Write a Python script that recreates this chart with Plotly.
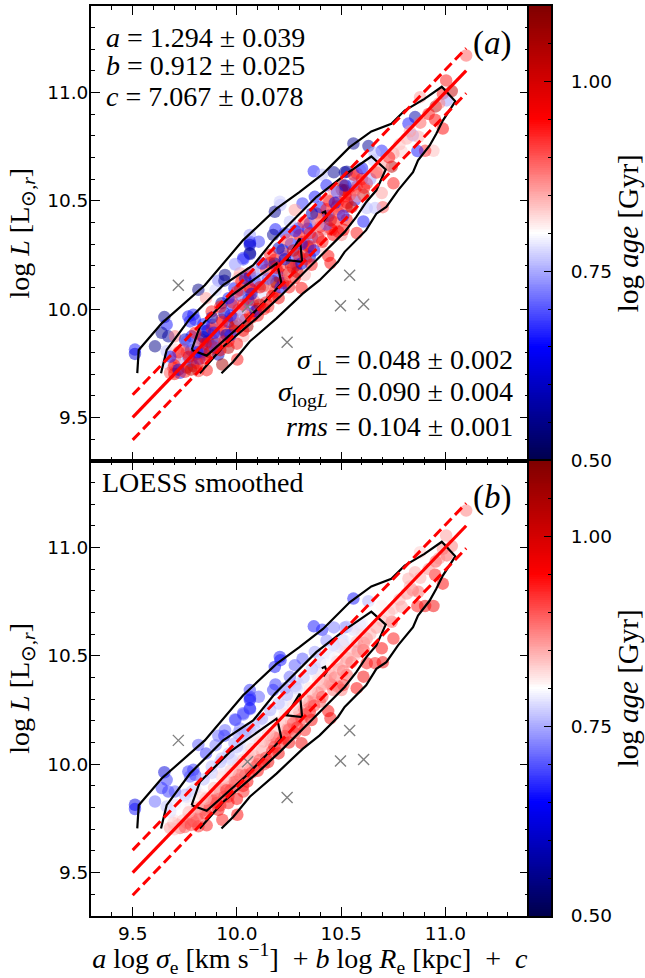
import numpy as np
import plotly.graph_objects as go

W, H = 645, 978

# galaxy positions (model value, log L) and ages
model = [
 9.511,9.511,9.607,9.652,9.663,9.639,9.671,9.703,9.767,9.791,
 9.799,9.775,9.815,9.852,9.911,9.943,9.94,9.898,9.991,10.031,
 10.063,10.063,9.988,9.927,9.975,9.882,9.783,9.751,9.663,9.743,
 9.703,9.767,9.695,9.727,9.663,9.679,9.879,9.847,9.791,9.911,
 9.959,10.002,9.93,9.855,9.815,9.703,9.831,9.879,9.927,9.959,
 10.007,10.015,10.055,10.063,9.991,9.911,10.031,9.847,9.959,10.015,
 10.063,10.015,10.071,10.369,10.409,10.465,10.518,10.43,10.51,10.518,
 10.446,10.486,10.526,10.566,10.566,10.374,10.315,10.278,10.209,10.182,
 10.206,10.382,10.35,10.294,10.254,10.185,10.174,10.23,10.286,10.406,
 10.398,10.446,10.486,10.502,10.462,10.062,10.062,10.105,10.062,10.062,
 10.03,9.993,10.219,10.182,10.158,10.23,10.342,10.35,10.398,10.438,
 10.449,10.246,10.206,10.174,10.126,10.062,10.006,10.11,10.31,10.358,
 10.286,10.326,10.278,10.222,10.022,10.086,11.1,11.004,11.031,10.879,
 10.988,11.007,10.954,10.951,10.988,10.855,10.823,10.844,10.815,10.871,
 10.943,10.903,10.866,10.791,10.751,10.695,10.631,10.559,10.655,10.743,
 10.751,10.695,10.7,10.623,10.663,10.607,10.623,10.575,10.575,10.527,
 10.503,10.463,10.543,10.479,10.527,10.455,10.511,10.575,10.607,10.591,
 10.447,10.415,9.74,9.76,9.78,9.80,9.82,9.84,9.86,9.88,
 9.90,9.92,9.94,9.96,9.98,10.00,10.02,10.04,10.06,10.08,
 10.10,10.12,10.14,10.16,10.18,10.20,10.22,10.24,10.26,10.28,
 10.30,10.32,9.78,9.82,9.86,9.90,9.94,9.98,10.02,10.06,
 10.10,10.14,10.18,10.22,10.26,10.30,10.34,10.38,9.90,9.95,
 10.00,10.05,10.10,10.15,10.20,10.25,9.74,9.70,9.76,9.80,
 9.84,9.88,10.32,10.36,10.40,10.44,10.48,10.52,10.56,10.60,
 # upper band
 10.40,10.44,10.48,10.36,10.32,10.28,10.24,10.20,10.16,10.12,
 10.08,10.04,10.00,9.96,9.92,9.88,9.84,9.80,9.76,9.72,
 9.68,10.52,10.56,10.60,10.66,
 # lower band
 9.70,9.72,9.75,9.78,9.81,9.83,9.85,9.87,9.89,9.92,
 9.94,9.97,9.99,10.03,10.01,10.07,10.09,10.11,10.13,10.17,
 10.19,10.21,10.23,10.25,10.27,10.29,10.31,10.33,10.35,10.37,
 10.39,10.41,10.43,10.45,10.47,10.49,10.51,10.53,10.55,10.58,
 10.61,10.64,10.67,10.70,10.73,10.78,10.83,10.88,10.92,10.97,
 # core
 9.97,10.03,10.07,10.11,10.15,10.19,10.23,10.27,10.31,10.35,
 9.93,9.89,9.85,9.81,9.77,10.39,10.43,10.47,
]
log_l = [
 9.813,9.793,9.828,9.963,9.928,9.89,9.874,9.874,9.966,9.974,
 9.951,9.943,10.089,10.05,10.131,10.157,10.131,10.088,10.208,10.229,
 10.303,10.254,10.096,10.027,10.02,9.928,9.874,9.859,9.805,9.813,
 9.775,9.775,9.729,9.706,9.752,9.706,9.828,9.79,9.737,9.79,
 9.821,9.767,9.744,9.718,9.714,9.813,9.859,9.989,9.951,9.92,
 9.997,9.966,10.043,9.974,9.905,9.89,9.874,9.897,9.851,10.165,
 10.15,10.088,10.088,10.636,10.62,10.631,10.631,10.571,10.571,10.548,
 10.495,10.495,10.472,10.503,10.548,10.518,10.487,10.457,10.48,10.449,
 10.495,10.441,10.395,10.372,10.403,10.368,10.342,10.35,10.35,10.418,
 10.357,10.372,10.357,10.342,10.342,10.311,10.342,10.311,10.296,10.258,
 10.235,10.204,10.273,10.227,10.212,10.242,10.288,10.242,10.288,10.245,
 10.212,10.166,10.196,10.128,10.105,10.166,10.143,10.196,10.097,10.204,
 10.204,10.158,10.143,10.12,10.128,10.128,11.17,11.055,11.006,10.978,
 10.994,10.963,10.935,10.874,10.833,10.886,10.856,10.802,10.787,10.795,
 10.73,10.73,10.729,10.726,10.718,10.73,10.752,10.764,10.688,10.657,
 10.58,10.535,10.47,10.466,10.466,10.527,10.58,10.626,10.565,10.634,
 10.55,10.55,10.527,10.473,10.412,10.366,10.366,10.351,10.404,10.642,
 10.443,10.366,9.74,9.73,9.76,9.79,9.77,9.82,9.85,9.86,
 9.84,9.87,9.90,9.94,9.96,9.93,10.00,9.95,10.02,10.04,
 10.00,10.06,10.03,10.10,10.08,10.15,10.18,10.21,10.20,10.25,
 10.24,10.31,9.81,9.84,9.90,9.93,9.98,10.03,10.06,10.10,
 10.14,10.18,10.21,10.26,10.30,10.34,10.37,10.42,9.82,9.88,
 9.84,9.92,9.97,10.01,10.05,10.10,9.77,9.74,9.80,9.83,
 9.87,9.91,10.26,10.33,10.38,10.43,10.46,10.52,10.58,10.60,
 # upper band
 10.47,10.50,10.54,10.44,10.40,10.36,10.32,10.28,10.25,10.21,
 10.17,10.14,10.08,10.05,10.01,9.96,9.93,9.89,9.85,9.80,
 9.78,10.57,10.62,10.65,10.72,
 # lower band
 9.70,9.72,9.71,9.72,9.75,9.80,9.77,9.80,9.83,9.81,
 9.85,9.88,9.92,9.90,9.95,9.96,9.99,10.02,10.00,10.06,
 10.12,10.10,10.13,10.16,10.19,10.17,10.21,10.23,10.29,10.27,
 10.33,10.31,10.39,10.41,10.40,10.44,10.43,10.49,10.47,10.52,
 10.56,10.60,10.63,10.66,10.70,10.76,10.82,10.86,10.90,10.95,
 # core
 9.97,10.02,10.07,10.10,10.14,10.19,10.23,10.27,10.30,10.35,
 9.94,9.89,9.84,9.80,9.78,10.39,10.46,10.49,
]
age_measured = [
 0.66,0.62,0.55,0.56,0.66,0.56,0.57,0.88,0.66,0.66,
 0.67,0.67,0.55,0.86,0.72,0.55,0.56,0.77,0.74,0.68,
 0.67,0.60,0.66,0.56,0.67,0.66,0.64,0.60,0.76,0.92,
 0.93,0.68,0.96,0.66,0.78,0.90,0.62,0.95,1.02,0.60,
 1.03,0.94,1.05,0.94,0.92,0.83,0.93,0.94,0.93,0.85,
 0.93,0.77,0.57,0.95,0.95,0.93,0.85,0.57,0.95,0.86,
 0.66,1.02,0.94,0.66,0.76,0.56,0.56,0.66,1.02,1.04,
 0.85,0.93,0.94,0.67,0.94,0.66,0.68,0.86,0.76,0.56,
 0.77,1.04,0.66,0.67,0.76,0.66,0.56,0.67,0.86,0.94,
 0.78,0.94,1.00,0.87,0.95,0.66,0.74,0.68,0.60,0.56,
 0.67,0.76,0.60,0.95,0.95,0.66,1.02,0.60,0.84,0.95,
 0.95,1.04,0.95,1.05,1.03,0.95,0.85,0.83,0.95,0.94,
 0.66,0.85,0.95,1.03,0.94,0.66,0.90,0.94,1.02,0.86,
 0.94,0.74,1.03,0.95,0.95,0.58,0.66,0.74,0.85,0.85,
 0.84,0.93,0.66,0.83,0.86,0.67,0.56,0.56,0.77,1.03,
 0.94,0.86,0.90,0.76,0.76,1.04,0.94,0.94,0.94,0.57,
 1.03,0.87,0.94,0.94,0.95,0.95,0.95,0.94,0.66,0.76,
 0.84,0.88,0.85,1.00,0.70,0.94,0.66,0.90,0.62,0.96,
 1.02,0.72,0.94,0.66,1.00,0.92,0.76,0.96,0.70,0.94,
 0.96,0.78,0.94,0.86,0.92,0.66,0.94,0.82,1.00,0.68,
 0.94,0.96,0.62,0.94,0.66,0.85,0.60,0.94,0.70,0.95,
 0.74,0.92,0.58,0.88,0.66,0.94,0.66,0.86,0.95,0.60,
 0.94,1.04,0.94,0.92,0.96,0.94,0.76,0.94,0.90,0.74,
 0.60,0.94,0.94,0.70,0.94,0.66,0.88,0.95,0.72,0.94,
 # upper band
 0.66,0.94,0.70,0.60,0.92,0.66,0.90,0.60,0.94,0.66,
 0.74,0.60,0.93,0.66,0.94,0.58,0.66,0.94,0.70,0.94,
 0.66,0.62,0.94,0.66,0.76,
 # lower band
 0.96,0.62,0.94,1.02,0.96,0.66,0.94,1.00,0.70,0.96,
 0.94,0.66,1.02,0.96,0.74,0.94,0.62,1.02,0.94,0.96,
 1.04,0.66,0.94,0.86,0.94,1.00,0.62,0.94,0.95,0.66,
 0.96,0.94,0.70,1.00,0.94,0.92,0.66,0.94,1.02,0.86,
 0.94,0.74,0.94,0.86,0.94,0.84,0.86,0.90,0.94,0.88,
 # core
 0.66,0.94,0.62,0.96,0.70,0.94,0.60,1.00,0.66,0.94,
 0.94,0.66,0.96,0.66,0.96,0.85,0.94,0.62,
]
age_loess = [
 0.63,0.66,0.71,0.62,0.68,0.68,0.68,0.70,0.68,0.68,
 0.68,0.70,0.70,0.68,0.71,0.71,0.68,0.72,0.72,0.70,
 0.70,0.71,0.74,0.76,0.77,0.78,0.76,0.75,0.76,0.79,
 0.80,0.86,0.85,0.90,0.80,0.86,0.90,0.90,0.91,0.96,
 0.94,0.95,0.94,0.94,0.93,0.78,0.86,0.76,0.82,0.86,
 0.84,0.86,0.84,0.90,0.90,0.86,0.93,0.80,0.93,0.72,
 0.74,0.77,0.80,0.66,0.67,0.72,0.74,0.73,0.76,0.77,
 0.80,0.82,0.86,0.84,0.78,0.74,0.70,0.70,0.66,0.66,
 0.66,0.78,0.80,0.77,0.71,0.68,0.68,0.72,0.76,0.82,
 0.84,0.86,0.88,0.88,0.88,0.68,0.68,0.70,0.66,0.66,
 0.69,0.68,0.78,0.80,0.78,0.80,0.90,0.95,0.90,0.95,
 0.96,0.92,0.85,0.90,0.86,0.76,0.74,0.76,0.96,0.96,
 0.90,0.93,0.93,0.92,0.76,0.82,0.88,0.86,0.88,0.83,
 0.87,0.90,0.91,0.94,0.95,0.85,0.85,0.87,0.87,0.89,
 0.96,0.96,0.94,0.86,0.84,0.81,0.75,0.66,0.80,0.90,
 0.94,0.95,0.96,0.94,0.94,0.92,0.87,0.82,0.87,0.75,
 0.82,0.77,0.84,0.86,0.90,0.88,0.92,0.95,0.96,0.78,
 0.82,0.86,0.88,0.90,0.88,0.85,0.88,0.86,0.85,0.86,
 0.90,0.88,0.87,0.84,0.84,0.88,0.84,0.90,0.85,0.85,
 0.90,0.86,0.92,0.86,0.93,0.84,0.84,0.82,0.85,0.83,
 0.86,0.80,0.82,0.82,0.80,0.80,0.79,0.78,0.79,0.79,
 0.79,0.80,0.80,0.79,0.79,0.79,0.80,0.79,0.92,0.92,
 0.95,0.95,0.95,0.96,0.96,0.96,0.80,0.82,0.80,0.80,
 0.80,0.80,0.88,0.86,0.84,0.83,0.84,0.82,0.80,0.82,
 # upper band
 0.77,0.78,0.78,0.76,0.76,0.76,0.75,0.76,0.75,0.75,
 0.76,0.75,0.76,0.76,0.76,0.77,0.76,0.78,0.78,0.80,
 0.78,0.79,0.78,0.79,0.80,
 # lower band
 0.84,0.84,0.90,0.91,0.90,0.86,0.91,0.91,0.90,0.93,
 0.92,0.92,0.89,0.94,0.89,0.92,0.90,0.90,0.93,0.93,
 0.89,0.93,0.92,0.90,0.90,0.93,0.92,0.91,0.88,0.91,
 0.87,0.91,0.86,0.85,0.88,0.85,0.88,0.85,0.88,0.87,
 0.87,0.85,0.86,0.85,0.84,0.85,0.85,0.85,0.87,0.87,
 # core
 0.83,0.84,0.83,0.83,0.83,0.82,0.82,0.82,0.82,0.82,
 0.82,0.84,0.84,0.85,0.84,0.82,0.80,0.80,
]
assert len(model) == len(log_l) == len(age_measured) == len(age_loess)

# outliers (clipped galaxies)
cross_x = [9.719, 10.541, 10.497, 10.608, 10.241, 10.051]
cross_y = [10.11, 10.156, 10.015, 10.022, 9.847, 10.011]

# density contours
outer_x = [9.522,9.529,9.639,9.846,10.03,10.19,10.30,10.413,10.541,10.645,10.741,10.805,10.90,10.983,11.048,10.988,10.956,10.925,10.869,10.845,10.773,10.717,10.669,10.62,10.517,10.485,10.397,10.317,10.19,10.062,9.982,9.926]
outer_y = [9.704,9.811,9.934,10.11,10.318,10.463,10.54,10.624,10.747,10.82,10.855,10.916,10.97,11.026,10.959,10.87,10.808,10.755,10.686,10.632,10.548,10.471,10.44,10.364,10.264,10.218,10.133,10.072,9.957,9.85,9.757,9.704]
middle_x = [9.636,9.663,9.775,9.934,10.078,10.182,10.381,10.525,10.645,10.714,10.669,10.621,10.573,10.517,10.413,10.317,10.206,10.094,9.934,9.822]
middle_y = [9.704,9.811,9.957,10.11,10.202,10.325,10.517,10.624,10.704,10.644,10.548,10.494,10.425,10.356,10.256,10.164,10.057,9.957,9.826,9.704]
inner_x = [9.783,9.822,9.966,10.086,10.19,10.198,10.214,10.14,10.038,9.855,9.783]
inner_y = [9.811,9.918,10.057,10.141,10.21,10.188,10.118,10.041,9.941,9.785,9.811]
peak_x = [10.302,10.313,10.238,10.302]
peak_y = [10.326,10.218,10.226,10.326]
hook_x = [10.407,10.423,10.431,10.415]
hook_y = [10.443,10.45,10.427,10.405]

# best-fit relation and its scatter
fit_x = [9.5, 11.1]
fit_y = [9.5, 11.1]
rms = 0.104

tick_vals = [9.5, 10.0, 10.5, 11.0]
tick_text = ["9.5", "10.0", "10.5", "11.0"]
cbar_tick_vals = [0.5, 0.75, 1.0]
cbar_tick_text = ["0.50", "0.75", "1.00"]
axis_range = [9.3, 11.4]
cbar_range = [0.5, 1.1]

SEISMIC = [[0, "#00004c"], [0.25, "#0000ff"], [0.5, "#ffffff"], [0.75, "#ff0000"], [1, "#7f0000"]]
SERIF = "Liberation Serif, serif"
SANS = "DejaVu Sans"

L, R, CR = 91 / W, 528.7 / W, 551.3 / W
T0, MID, B0 = 1 - 5.7 / H, 1 - 460.7 / H, 1 - 916 / H

fig = go.Figure()
cbar_levels = np.linspace(cbar_range[0], cbar_range[1], 241)

panels = [("x", "y", age_measured, "x3", "y3"), ("x2", "y2", age_loess, "x4", "y4")]
for xa, ya, ages, cx, cy in panels:
    fig.add_trace(go.Scatter(x=model, y=log_l, mode="markers", xaxis=xa, yaxis=ya, showlegend=False,
                             marker=dict(size=12.5, color=ages, colorscale=SEISMIC, cmin=cbar_range[0],
                                         cmax=cbar_range[1], opacity=0.5, line=dict(width=0))))
    fig.add_trace(go.Scatter(x=cross_x, y=cross_y, mode="markers", xaxis=xa, yaxis=ya, showlegend=False,
                             marker=dict(symbol="x-thin", size=11, color="#808080",
                                         line=dict(width=1.4, color="#808080"))))
    for cxs, cys in [(outer_x, outer_y), (middle_x, middle_y), (inner_x, inner_y), (peak_x, peak_y), (hook_x, hook_y)]:
        fig.add_trace(go.Scatter(x=cxs, y=cys, mode="lines", xaxis=xa, yaxis=ya, showlegend=False,
                                 line=dict(color="black", width=2.2)))
    fig.add_trace(go.Scatter(x=fit_x, y=fit_y, mode="lines", xaxis=xa, yaxis=ya, showlegend=False,
                             line=dict(color="#ff0000", width=3.2)))
    for sign in (1, -1):
        fig.add_trace(go.Scatter(x=fit_x, y=[v + sign * rms for v in fit_y], mode="lines", xaxis=xa, yaxis=ya,
                                 showlegend=False, line=dict(color="#ff0000", width=3, dash="10px,5px")))
    fig.add_trace(go.Heatmap(z=[[v, v] for v in cbar_levels], y=cbar_levels, x=[0, 1], xaxis=cx, yaxis=cy,
                             colorscale=SEISMIC, zmin=cbar_range[0], zmax=cbar_range[1], showscale=False,
                             hoverinfo="skip"))

minor = dict(ticks="inside", ticklen=4, tickwidth=1.2, tickcolor="black", dtick=0.1, showgrid=False)
def main_axis(domain, anchor, labels, title=None, standoff=0, label_shift=0):
    d = dict(domain=domain, anchor=anchor, range=axis_range, tickmode="array", tickvals=tick_vals,
             ticktext=tick_text, ticks="inside", ticklen=9, tickwidth=1.3, tickcolor="black", automargin=False,
             showline=True, linecolor="black", linewidth=1.8, mirror="allticks", showgrid=False, zeroline=False,
             showticklabels=labels, tickfont=dict(family=SANS, size=18.5, color="black"), minor=minor,
             ticklabelstandoff=label_shift)
    if title:
        d["title"] = dict(text=title, font=dict(family=SERIF, size=28, color="black"), standoff=standoff)
    return d

ylabel = "log <i>L</i> [L<sub>⊙,<i>r</i></sub>]"
xlabel = "<i>a</i> log <i>σ</i><sub>e</sub> [km s<sup>−1</sup>]  + <i>b</i> log <i>R</i><sub>e</sub> [kpc]  +  <i>c</i>"
clabel = "log <i>age</i> [Gyr]"

fig.update_layout(
    width=W, height=H, margin=dict(l=0, r=0, t=0, b=0), plot_bgcolor="white", paper_bgcolor="white",
    xaxis=main_axis([L, R], "y", False),
    yaxis=main_axis([MID, T0], "x", True, ylabel, 9, -3),
    xaxis2=main_axis([L, R], "y2", True, xlabel, 8),
    yaxis2=main_axis([B0, MID], "x2", True, ylabel, 9, -3),
)

def cbar_axes(domain, anchor):
    return dict(domain=domain, anchor=anchor, side="right", range=cbar_range, tickmode="array", automargin=False,
                tickvals=cbar_tick_vals, ticktext=cbar_tick_text, ticks="inside", ticklen=8, tickwidth=1.3,
                tickcolor="black", showline=True, linecolor="black", linewidth=1.5, mirror=True, showgrid=False,
                zeroline=False, ticklabelstandoff=14, tickfont=dict(family=SANS, size=18.5, color="black"),
                minor=dict(ticks="inside", ticklen=3.5, tickwidth=1.2, tickcolor="black", dtick=0.05, showgrid=False),
                title=dict(text=clabel, font=dict(family=SERIF, size=29, color="black"), standoff=4))

fig.update_layout(
    xaxis3=dict(domain=[R, CR], anchor="y3", range=[0, 1], showticklabels=False, ticks="", showgrid=False, automargin=False,
                zeroline=False, showline=True, linecolor="black", linewidth=1.5, mirror=True),
    yaxis3=cbar_axes([MID, T0], "x3"),
    xaxis4=dict(domain=[R, CR], anchor="y4", range=[0, 1], showticklabels=False, ticks="", showgrid=False, automargin=False,
                zeroline=False, showline=True, linecolor="black", linewidth=1.5, mirror=True),
    yaxis4=cbar_axes([B0, MID], "x4"),
)

def note(text, x, y, xa, ya, anchor="left", size=28):
    fig.add_annotation(text=text, x=x, y=y, xref=xa, yref=ya, xanchor=anchor, yanchor="middle", showarrow=False,
                       font=dict(family=SERIF, size=size, color="black"))

note("<i>a</i> = 1.294 ± 0.039", 9.3625, 11.252, "x", "y")
note("<i>b</i> = 0.912 ± 0.025", 9.3625, 11.123, "x", "y")
note("<i>c</i> = 7.067 ± 0.078", 9.3625, 10.98, "x", "y")
note("<i>σ</i><sub>⊥</sub> = 0.048 ± 0.002", 11.332, 9.756, "x", "y", "right")
note("<i>σ</i><sub>log<i>L</i></sub> = 0.090 ± 0.004", 11.332, 9.609, "x", "y", "right")
note("<i>rms</i> = 0.104 ± 0.001", 11.332, 9.457, "x", "y", "right")
note("(<i>a</i>)", 11.226, 11.224, "x", "y", "center", 33)
note("(<i>b</i>)", 11.226, 11.23, "x2", "y2", "center", 33)
note("LOESS smoothed", 9.343, 11.30, "x2", "y2", "left", 28)

fig.write_html("out.html", post_script="document.body.style.margin='0';", config=dict(displayModeBar=False))
